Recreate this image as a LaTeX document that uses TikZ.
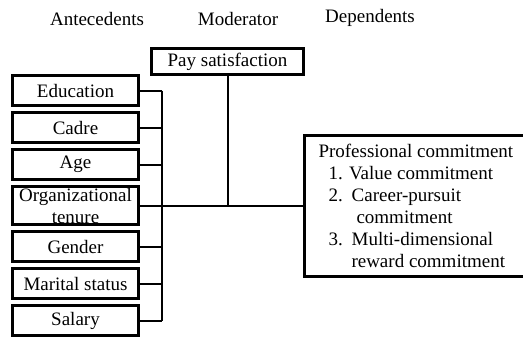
\documentclass[tikz,border=0pt]{standalone}
\usepackage{fontspec}
\setmainfont{Liberation Serif}
\usepackage{tikz}
\usetikzlibrary{positioning,calc}

\begin{document}
\begin{tikzpicture}[
  x=0.5pt,y=-0.5pt,
  node distance=2pt,
  every node/.style={font=\fontsize{9.5}{11}\selectfont,align=center},
  varbox/.style={rectangle,draw=black,line width=1.5pt,inner sep=1pt,minimum width=63pt,minimum height=15pt},
  modbox/.style={rectangle,draw=black,line width=1.5pt,inner sep=1pt,minimum width=76pt,minimum height=13pt},
  depbox/.style={rectangle,draw=black,line width=1.5pt,inner xsep=7pt,inner ysep=2pt,minimum width=111pt,minimum height=70.5pt,align=left},
  wire/.style={line width=1pt}
]
\useasboundingbox (0,0) rectangle (523,337);

% column heads
\node (hant) at (97,19) {Antecedents};
\node (hmod) at (238,19) {Moderator};
\node (hdep) at (370,18) {Dependents};

% antecedents
\node[varbox,anchor=north west] (edu) at (11,74) {Education};
\node[varbox,below=of edu] (cadre) {Cadre};
\node[varbox,below=of cadre] (age) {Age};
\node[varbox,below=of age,minimum height=19pt,inner sep=0pt] (tenure) {Organizational\\tenure};
\node[varbox,below=of tenure] (gender) {Gender};
\node[varbox,below=of gender] (marital) {Marital status};
\node[varbox,below=of marital] (salary) {Salary};

% moderator and dependents
\node[modbox,anchor=north west] (pay) at (150,47) {Pay satisfaction};
\node[depbox,anchor=west] (prof) at ($(303,0)!(tenure.east)!(303,10)$) {%
  Professional commitment\\
  \hspace*{5pt}1. Value commitment\\
  \hspace*{5pt}2.\hspace{4.5pt}Career-pursuit\\
  \hspace*{19pt}commitment\\
  \hspace*{5pt}3.\hspace{4.5pt}Multi-dimensional\\
  \hspace*{16.5pt}reward commitment};

% bus
\coordinate (bus) at (162,0);
\foreach \v in {edu,cadre,age,gender,marital,salary}
  \draw[wire] (\v.east) -- (\v.east -| bus);
\draw[wire] (edu.east -| bus) -- (salary.east -| bus);
\draw[wire] (tenure.east) -- (prof.west);
\draw[wire] (pay.south) -- (pay.south |- tenure.east);
\end{tikzpicture}
\end{document}
